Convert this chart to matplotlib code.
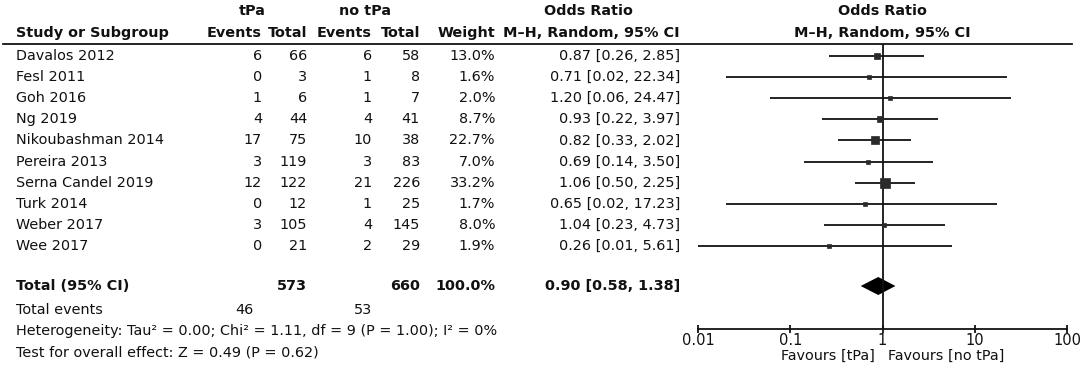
import numpy as np
import matplotlib
matplotlib.use("Agg")
import matplotlib.pyplot as plt

# study data
studies = ["Davalos 2012", "Fesl 2011", "Goh 2016", "Ng 2019", "Nikoubashman 2014",
           "Pereira 2013", "Serna Candel 2019", "Turk 2014", "Weber 2017", "Wee 2017"]
ev_tpa = [6, 0, 1, 4, 17, 3, 12, 0, 3, 0]
n_tpa = [66, 3, 6, 44, 75, 119, 122, 12, 105, 21]
ev_no = [6, 1, 1, 4, 10, 3, 21, 1, 4, 2]
n_no = [58, 8, 7, 41, 38, 83, 226, 25, 145, 29]
weight = [13.0, 1.6, 2.0, 8.7, 22.7, 7.0, 33.2, 1.7, 8.0, 1.9]
odds = [0.87, 0.71, 1.20, 0.93, 0.82, 0.69, 1.06, 0.65, 1.04, 0.26]
ci_lo = [0.26, 0.02, 0.06, 0.22, 0.33, 0.14, 0.50, 0.02, 0.23, 0.01]
ci_hi = [2.85, 22.34, 24.47, 3.97, 2.02, 3.50, 2.25, 17.23, 4.73, 5.61]

tot_n_tpa, tot_n_no = 573, 660
tot_ev_tpa, tot_ev_no = 46, 53
tot_weight = 100.0
tot_or, tot_lo, tot_hi = 0.90, 0.58, 1.38

xticks = [0.01, 0.1, 1, 10, 100]
xtick_labels = ["0.01", "0.1", "1", "10", "100"]

W, H = 1084, 372
fig = plt.figure(figsize=(W / 100, H / 100), dpi=100)
col = "#111111"
fs = 10.4   # regular text
fsb = 10.4  # bold text
px = 0.72  # one pixel in points

# text layer in pixel coords
tx = fig.add_axes([0, 0, 1, 1])
tx.set_xlim(0, W)
tx.set_ylim(H, 0)
tx.axis("off")

def put(x, y, s, ha="right", bold=False):
    tx.text(x, y, s, ha=ha, va="center", fontsize=fsb if bold else fs, color=col,
            fontweight="bold" if bold else "normal")

# header
put(252, 11, "tPa", ha="center", bold=True)
put(365, 11, "no tPa", ha="center", bold=True)
put(588, 11, "Odds Ratio", ha="center", bold=True)
put(882, 11, "Odds Ratio", ha="center", bold=True)
put(16, 33, "Study or Subgroup", ha="left", bold=True)
put(262, 33, "Events", bold=True)
put(307, 33, "Total", bold=True)
put(372, 33, "Events", bold=True)
put(420, 33, "Total", bold=True)
put(495, 33, "Weight", bold=True)
put(680, 33, "M\u2013H, Random, 95% CI", bold=True)
put(882, 33, "M\u2013H, Random, 95% CI", ha="center", bold=True)
tx.plot([3, 1072], [44, 44], color=col, lw=1.8 * px)

row_y = 56 + 21.1 * np.arange(len(studies))
for i, y in enumerate(row_y):
    put(16, y, studies[i], ha="left")
    put(262, y, str(ev_tpa[i]))
    put(307, y, str(n_tpa[i]))
    put(372, y, str(ev_no[i]))
    put(420, y, str(n_no[i]))
    put(495, y, f"{weight[i]:.1f}%")
    put(680, y, f"{odds[i]:.2f} [{ci_lo[i]:.2f}, {ci_hi[i]:.2f}]")

ty = 286
put(16, ty, "Total (95% CI)", ha="left", bold=True)
put(307, ty, str(tot_n_tpa), bold=True)
put(420, ty, str(tot_n_no), bold=True)
put(495, ty, f"{tot_weight:.1f}%", bold=True)
put(680, ty, f"{tot_or:.2f} [{tot_lo:.2f}, {tot_hi:.2f}]", bold=True)

put(16, 310, "Total events", ha="left")
put(254, 310, str(tot_ev_tpa))
put(372, 310, str(tot_ev_no))
put(16, 331, "Heterogeneity: Tau\u00b2 = 0.00; Chi\u00b2 = 1.11, df = 9 (P = 1.00); I\u00b2 = 0%", ha="left")
put(16, 352, "Test for overall effect: Z = 0.49 (P = 0.62)", ha="left")

put(875, 356, "Favours [tPa]")
put(888, 356, "Favours [no tPa]", ha="left")

# forest panel
x0, x1, y0, y1 = 698, 1067, 44, 329
ax = fig.add_axes([x0 / W, (H - y1) / H, (x1 - x0) / W, (y1 - y0) / H])
ax.patch.set_alpha(0)
ax.set_xscale("log")
ax.set_xlim(0.01, 100)
ax.set_ylim(y1, y0)
for s in ["top", "left", "right"]:
    ax.spines[s].set_visible(False)
ax.spines["bottom"].set_linewidth(1.8 * px)
ax.spines["bottom"].set_color(col)
ax.set_yticks([])
ax.set_xticks(xticks)
ax.set_xticklabels(xtick_labels)
ax.minorticks_off()
ax.tick_params(axis="x", direction="inout", length=8 * px, width=1.8 * px,
               colors=col, labelsize=10.5, pad=0)

ax.axvline(1, color=col, lw=1.8 * px)
for i, y in enumerate(row_y):
    ax.plot([ci_lo[i], ci_hi[i]], [y, y], color=col, lw=1.8 * px, solid_capstyle="butt")
    side = max(1.75 * np.sqrt(weight[i]), 3.5)
    ax.plot(odds[i], y, marker="s", ms=side * px, color="#2a2a2a", mec="#2a2a2a", mew=0.5)

ax.fill([tot_lo, tot_or, tot_hi, tot_or], [ty, ty - 9, ty, ty + 9], color="black", lw=0)

fig.savefig("out.png", dpi=100)
